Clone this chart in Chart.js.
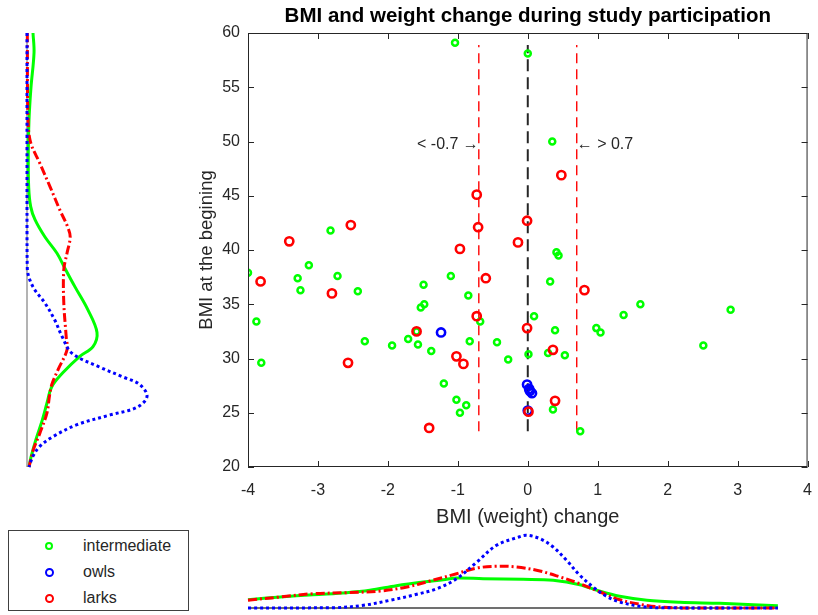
<!DOCTYPE html>
<html>
<head>
<meta charset="utf-8">
<script src="https://cdn.jsdelivr.net/npm/chart.js@4.4.1/dist/chart.umd.min.js"></script>
<style>
  html, body { margin: 0; padding: 0; background: #fff; }
  body { width: 818px; height: 615px; position: relative; overflow: hidden; font-family: "Liberation Sans", Arial, sans-serif; }
  canvas { position: absolute; }
  #legend { position: absolute; left: 8px; top: 530px; width: 181px; height: 81px; border: 1px solid #404040; box-sizing: border-box; background: #fff; }
  #legend .row { position: absolute; left: 0; width: 100%; height: 20px; }
  #legend .mk { position: absolute; border-radius: 50%; box-sizing: border-box; }
  #legend .lb { position: absolute; left: 74px; top: 0; line-height: 20px; font-size: 16px; color: #262626; }
</style>
</head>
<body>
<canvas id="side" width="140" height="444" style="left:22px;top:28px;width:140px;height:444px"></canvas>
<canvas id="main" width="676" height="535" style="left:150px;top:0px;width:676px;height:535px"></canvas>
<canvas id="bottom" width="570" height="90" style="left:243px;top:523px;width:570px;height:90px"></canvas>
<div id="legend"></div>
<script>
// ---- labels
var chartTitle = 'BMI and weight change during study participation';
var xTitle = 'BMI (weight) change';
var yTitle = 'BMI at the begining';
var seriesNames = ['intermediate', 'owls', 'larks'];
var seriesColors = ['#00ff00', '#0000ff', '#ff0000'];

// ---- scatter values (BMI change, BMI at start)
var intermediateX = [-1.04, 0.00, 0.35, -2.82, -3.13, -4.00, -3.29, -2.72, -3.25, -2.43, -3.88, -3.81, -2.33, -1.94, -1.71, -1.57,
  -1.38, -1.49, -1.53, -1.48, -1.10, -0.85, -0.83, -0.68, -0.44, -0.28, -1.20, -1.02, -0.88, -0.97, 0.01, 0.41,
  0.44, 0.32, 0.09, 0.39, 0.98, 1.04, 1.37, 1.61, 2.90, 2.51, 0.29, 0.53, 0.36, 0.75, -1.59];
var intermediateY = [59.1, 58.1, 50.0, 41.8, 38.6, 37.9, 37.4, 37.6, 36.3, 36.2, 33.4, 29.6, 31.6, 31.2, 31.8, 31.3,
  30.7, 36.8, 34.7, 35.0, 37.6, 35.8, 31.6, 33.4, 31.5, 29.9, 27.7, 26.2, 25.7, 25.0, 30.4, 39.8,
  39.5, 37.1, 33.9, 32.6, 32.8, 32.4, 34.0, 35.0, 34.5, 31.2, 30.5, 30.3, 25.3, 23.3, 32.5];
var owlsX = [-1.24, -0.01, 0.02, 0.06, 0.03, 0.00];
var owlsY = [32.4, 27.6, 27.2, 26.8, 27.0, 25.2];
var larksX = [-0.73, 0.48, -0.71, -2.53, -3.41, -0.97, -0.14, -0.01, -3.82, -2.80, -0.60, 0.81, -1.59, -0.73, -0.01,
  -2.57, -1.02, -0.92, 0.36, 0.39, 0.01, -1.41];
var larksY = [45.1, 46.9, 42.1, 42.3, 40.8, 40.1, 40.7, 42.7, 37.1, 36.0, 37.4, 36.3, 32.5, 33.9, 32.8,
  29.6, 30.2, 29.5, 30.8, 26.1, 25.1, 23.6];

// ---- reference lines and their labels
var cutoffs = [-0.7, 0, 0.7];
var lineSpan = [23.3, 58.9];
var cutoffLabelY = 49.7;
var leftLabel = '< -0.7 \u2192';
var rightLabel = '\u2190 > 0.7';

// ---- left marginal density (BMI at start)
var sideOwlsBmi = [60, 50, 42, 38.2, 36.6, 35.1, 33.5, 32.0, 30.5, 29.2, 28.3, 27.6, 26.5, 25.5, 24.8, 23.9, 22.8, 21.9, 21.0, 20.0];
var sideOwlsDen = [0, 0, 0, 0.0004, 0.0075, 0.0225, 0.035, 0.044, 0.056, 0.091, 0.12, 0.141, 0.15, 0.1375, 0.104, 0.0625, 0.0325, 0.016, 0.0075, 0.0025];
var sideInterBmi = [60, 58.2, 55, 52, 48.9, 45.8, 44, 42.8, 41.2, 39.7, 38.3, 36.6, 34.5, 32.4, 31.1, 30.2, 28.7, 27.4, 25.9, 24.3, 22.5, 20.9, 20];
var sideInterDen = [0.0075, 0.0088, 0.005, 0.0025, 0.0016, 0.0021, 0.0046, 0.01, 0.0225, 0.0375, 0.0475, 0.06, 0.076, 0.0875, 0.0825, 0.066, 0.045, 0.031, 0.025, 0.019, 0.011, 0.005, 0.0025];
var sideLarksBmi = [60, 52, 49.9, 48, 45.8, 43.7, 42.1, 41.2, 39.7, 38.2, 35.1, 32, 30.8, 29.0, 27.6, 26.5, 25.0, 23.1, 21.6, 20];
var sideLarksDen = [0.0004, 0.0013, 0.0046, 0.016, 0.029, 0.041, 0.051, 0.054, 0.05, 0.046, 0.046, 0.049, 0.05, 0.039, 0.031, 0.028, 0.025, 0.016, 0.008, 0.0025];

// ---- bottom marginal density (BMI change)
var botOwlsX = [-4, -2.75, -2.35, -1.97, -1.59, -1.30, -1.02, -0.73, -0.45, -0.16, -0.02, 0.17, 0.36, 0.55, 0.74, 0.93, 1.12, 1.31, 1.6, 1.9, 3.57];
var botOwlsDen = [0, 0.0015, 0.0135, 0.0385, 0.0685, 0.0965, 0.1465, 0.23, 0.3135, 0.3515, 0.3635, 0.3465, 0.305, 0.2385, 0.1635, 0.105, 0.0585, 0.03, 0.0085, 0.001, 0];
var botInterX = [-4, -3.54, -3.07, -2.59, -2.26, -1.88, -1.5, -1.21, -1.02, -0.64, -0.07, 0.36, 0.74, 1.03, 1.31, 1.7, 2.17, 2.74, 3.22, 3.57];
var botInterDen = [0.0415, 0.055, 0.0665, 0.0765, 0.0885, 0.1115, 0.13, 0.1415, 0.15, 0.1465, 0.1435, 0.1385, 0.1165, 0.0835, 0.0585, 0.0385, 0.0285, 0.0235, 0.0165, 0.0115];
var botLarksX = [-4, -3.54, -3.07, -2.59, -2.11, -1.73, -1.4, -1.02, -0.73, -0.45, -0.16, 0.17, 0.46, 0.74, 1.03, 1.31, 1.6, 1.89, 2.3, 3.57];
var botLarksDen = [0.0385, 0.055, 0.0715, 0.0765, 0.085, 0.105, 0.135, 0.1715, 0.2, 0.2085, 0.205, 0.185, 0.155, 0.1215, 0.08, 0.0415, 0.0185, 0.005, 0, 0];
var botBaseX = [-4, 3.57];

var FONT = '"Liberation Sans", Arial, sans-serif';
var INK = '#262626';
Chart.defaults.font.family = FONT;
Chart.defaults.color = INK;
Chart.defaults.animation = false;

function pts(xs, ys) {
  var out = [];
  for (var i = 0; i < xs.length; i++) out.push({x: xs[i], y: ys[i]});
  return out;
}

function curve(data, color, dash) {
  return {
    data: data, showLine: true, pointRadius: 0, borderColor: color, borderWidth: 3,
    borderDash: dash, tension: 0.35, clip: false, fill: false
  };
}

// box + inward ticks + cutoff labels, like the original figure
var boxTicks = {
  id: 'boxTicks',
  afterDatasetsDraw: function(chart) {
    var ctx = chart.ctx, a = chart.chartArea, sx = chart.scales.x, sy = chart.scales.y;
    ctx.save();
    ctx.strokeStyle = INK;
    ctx.lineWidth = 1;
    ctx.strokeRect(a.left + 0.5, a.top + 0.5, a.right - a.left - 1, a.bottom - a.top - 1);
    ctx.beginPath();
    sx.ticks.forEach(function(t) {
      var p = Math.round(sx.getPixelForValue(t.value)) + 0.5;
      ctx.moveTo(p, a.bottom); ctx.lineTo(p, a.bottom - 6);
      ctx.moveTo(p, a.top); ctx.lineTo(p, a.top + 6);
    });
    sy.ticks.forEach(function(t) {
      var p = Math.round(sy.getPixelForValue(t.value)) + 0.5;
      ctx.moveTo(a.left, p); ctx.lineTo(a.left + 6, p);
      ctx.moveTo(a.right, p); ctx.lineTo(a.right - 6, p);
    });
    ctx.stroke();
    ctx.font = '16px ' + FONT;
    ctx.fillStyle = INK;
    ctx.textBaseline = 'middle';
    ctx.textAlign = 'right';
    ctx.fillText(leftLabel, sx.getPixelForValue(cutoffs[0]), sy.getPixelForValue(cutoffLabelY));
    ctx.textAlign = 'left';
    ctx.fillText(rightLabel, sx.getPixelForValue(cutoffs[2]), sy.getPixelForValue(cutoffLabelY));
    ctx.restore();
  }
};

function marker(xs, ys, color, r, w) {
  return {
    data: pts(xs, ys), pointRadius: r, pointBorderWidth: w, pointBorderColor: color,
    pointBackgroundColor: 'rgba(0,0,0,0)', borderColor: color, showLine: false
  };
}

function cutLine(x, color, width, dash) {
  return {
    data: [{x: x, y: lineSpan[0]}, {x: x, y: lineSpan[1]}], showLine: true, pointRadius: 0,
    borderColor: color, borderWidth: width, borderDash: dash
  };
}

new Chart(document.getElementById('main'), {
  type: 'scatter',
  data: {
    datasets: [
      marker(larksX, larksY, seriesColors[2], 4.1, 2.6),
      marker(owlsX, owlsY, seriesColors[1], 4.1, 2.6),
      marker(intermediateX, intermediateY, seriesColors[0], 3, 2.5),
      cutLine(cutoffs[0], '#ff0000', 1.4, [10, 6]),
      cutLine(cutoffs[1], '#262626', 2, [12, 6]),
      cutLine(cutoffs[2], '#ff0000', 1.4, [10, 6])
    ]
  },
  options: {
    responsive: false,
    animation: false,
    layout: {padding: {left: 0, right: 10, top: 0, bottom: 0}},
    plugins: {
      legend: {display: false},
      tooltip: {enabled: false},
      title: {
        display: true, text: chartTitle, fullSize: false, color: '#000',
        font: {size: 20.5, weight: 'bold'}, padding: {top: 4.2, bottom: 4.2}
      }
    },
    scales: {
      x: {
        type: 'linear', min: -4, max: 4,
        ticks: {stepSize: 1, font: {size: 16}, color: INK, padding: 14},
        grid: {display: false, drawTicks: false},
        border: {display: false},
        title: {display: true, text: xTitle, font: {size: 20}, color: INK, padding: {top: 0, bottom: 6}},
        afterFit: function(s) { s.height = 68; }
      },
      y: {
        type: 'linear', min: 20, max: 60,
        ticks: {stepSize: 5, font: {size: 16}, color: INK, padding: 8},
        grid: {display: false, drawTicks: false},
        border: {display: false},
        title: {display: true, text: yTitle, font: {size: 18.5}, color: INK, padding: {top: 46, bottom: 0}},
        afterFit: function(s) { s.width = 98; }
      }
    }
  },
  plugins: [boxTicks]
});

// left marginal: densities of BMI at start, drawn sideways
new Chart(document.getElementById('side'), {
  type: 'scatter',
  data: {
    datasets: [
      curve(pts(sideOwlsDen, sideOwlsBmi), seriesColors[1], [3, 3]),
      curve(pts(sideLarksDen, sideLarksBmi), seriesColors[2], [9, 3, 2, 3]),
      curve(pts(sideInterDen, sideInterBmi), seriesColors[0], []),
      {data: [{x: 0, y: 20}, {x: 0, y: 60}], showLine: true, pointRadius: 0, borderColor: '#808080', borderWidth: 1.2, clip: false}
    ]
  },
  options: {
    responsive: false,
    animation: false,
    layout: {padding: 5},
    plugins: {legend: {display: false}, tooltip: {enabled: false}},
    scales: {
      x: {display: false, min: 0, max: 0.1625},
      y: {display: false, min: 20, max: 60}
    }
  }
});

// bottom marginal: densities of BMI change
new Chart(document.getElementById('bottom'), {
  type: 'scatter',
  data: {
    datasets: [
      curve(pts(botOwlsX, botOwlsDen), seriesColors[1], [3, 3]),
      curve(pts(botLarksX, botLarksDen), seriesColors[2], [9, 3, 2, 3]),
      curve(pts(botInterX, botInterDen), seriesColors[0], []),
      {data: pts(botBaseX, [0, 0]), showLine: true, pointRadius: 0, borderColor: '#404040', borderWidth: 1.5, clip: false}
    ]
  },
  options: {
    responsive: false,
    animation: false,
    layout: {padding: 5},
    plugins: {legend: {display: false}, tooltip: {enabled: false}},
    scales: {
      x: {display: false, min: -4, max: 4},
      y: {display: false, min: 0, max: 0.4}
    }
  }
});

// legend box
var legendSizes = [8, 9, 9];
var legend = document.getElementById('legend');
seriesNames.forEach(function(name, i) {
  var row = document.createElement('div');
  row.className = 'row';
  row.style.top = (5 + i * 26) + 'px';
  var mk = document.createElement('div');
  mk.className = 'mk';
  var s = legendSizes[i];
  mk.style.width = s + 'px';
  mk.style.height = s + 'px';
  mk.style.left = (40 - s / 2) + 'px';
  mk.style.top = (10 - s / 2) + 'px';
  mk.style.border = '2.4px solid ' + seriesColors[i];
  var lb = document.createElement('div');
  lb.className = 'lb';
  lb.textContent = name;
  row.appendChild(mk);
  row.appendChild(lb);
  legend.appendChild(row);
});
</script>
</body>
</html>
